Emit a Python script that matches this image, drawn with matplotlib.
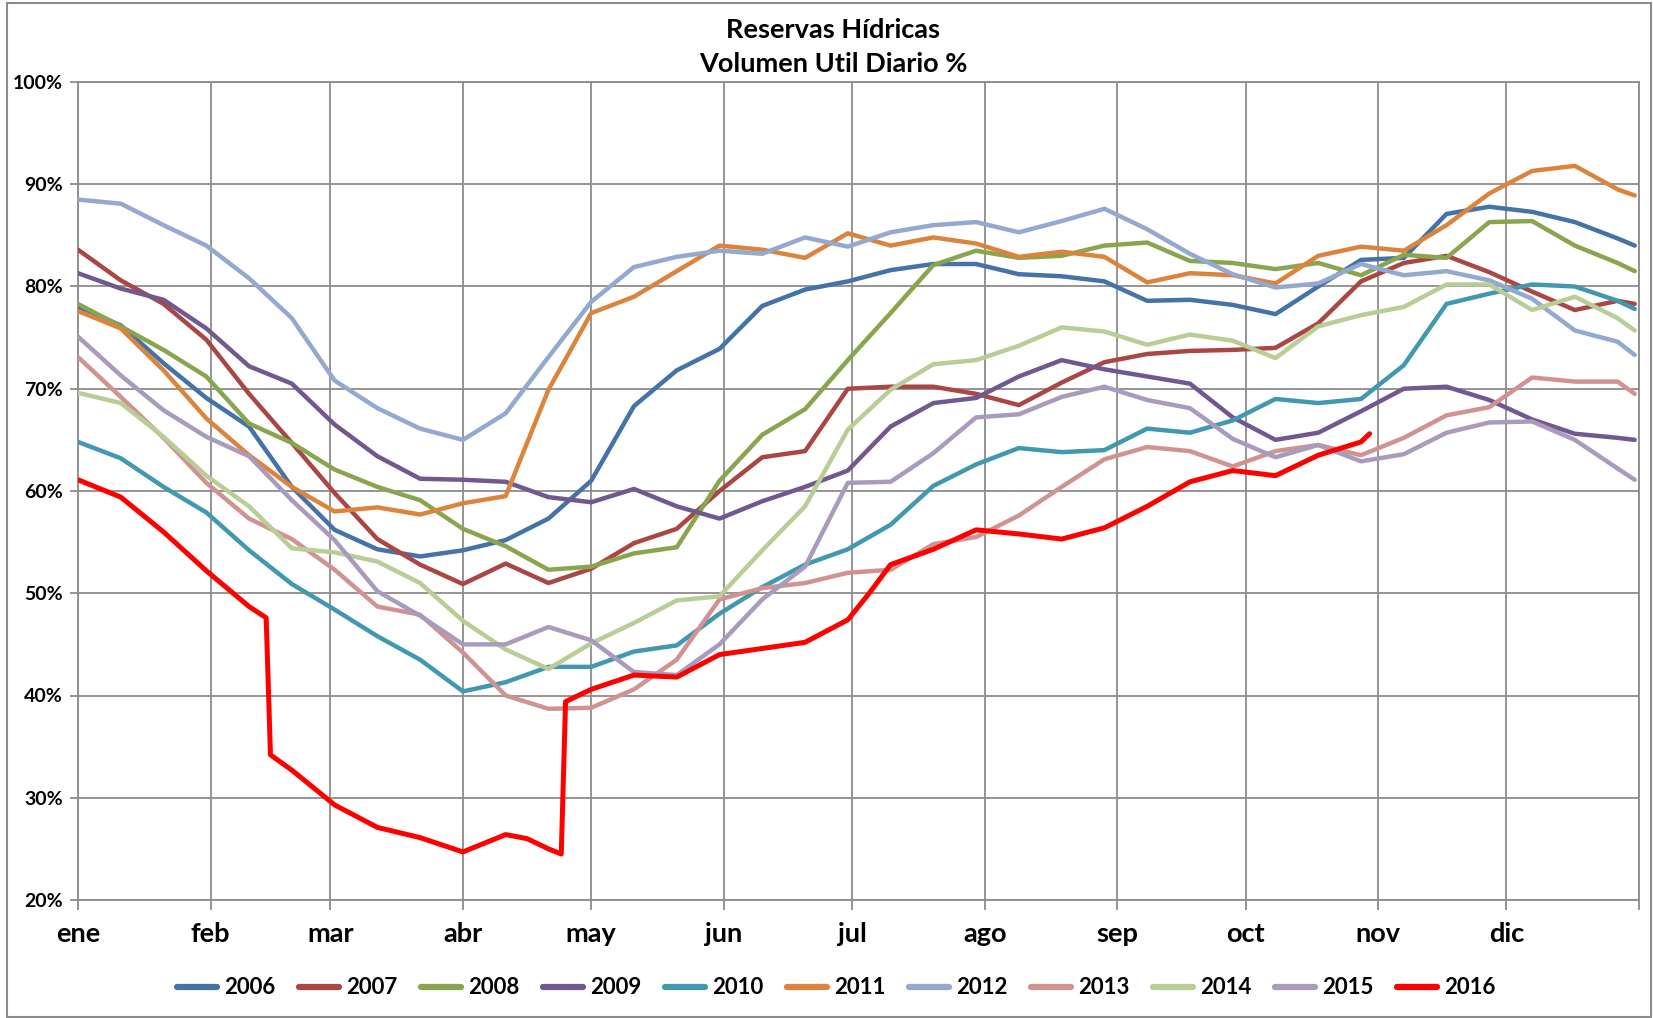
import numpy as np
import matplotlib
matplotlib.use('Agg')
import matplotlib.pyplot as plt
from matplotlib.patches import Rectangle
from matplotlib.ticker import FuncFormatter

plt.rcParams['font.family'] = ['Lato', 'DejaVu Sans']

# dias del año (0 = 1 de enero) donde se leyeron los valores
days = [0, 10, 20, 30, 40, 50, 60, 70, 80, 90, 100, 110, 120, 130, 140, 150, 160, 170, 180,
        190, 200, 210, 220, 230, 240, 250, 260, 270, 280, 290, 300, 310, 320, 330, 340, 350,
        360, 364]

v2006 = [78.0, 76.2, 72.5, 69.1, 66.3, 60.4, 56.2, 54.3, 53.6, 54.2, 55.2, 57.3, 61.0, 68.3,
         71.8, 73.9, 78.1, 79.7, 80.5, 81.6, 82.2, 82.2, 81.2, 81.0, 80.5, 78.6, 78.7, 78.2,
         77.3, 80.0, 82.6, 82.8, 87.1, 87.8, 87.3, 86.3, 84.7, 84.0]
v2007 = [83.6, 80.6, 78.3, 74.8, 69.5, 64.7, 59.8, 55.3, 52.8, 50.9, 52.9, 51.0, 52.4, 54.9,
         56.3, 60.0, 63.3, 63.9, 70.0, 70.2, 70.2, 69.5, 68.4, 70.6, 72.6, 73.4, 73.7, 73.8,
         74.0, 76.4, 80.5, 82.3, 83.0, 81.4, 79.5, 77.7, 78.6, 78.3]
v2008 = [78.3, 76.1, 73.8, 71.2, 66.6, 64.7, 62.1, 60.4, 59.1, 56.3, 54.6, 52.3, 52.6, 53.9,
         54.5, 61.0, 65.5, 68.0, 72.8, 77.4, 82.1, 83.5, 82.8, 83.0, 84.0, 84.3, 82.5, 82.3,
         81.7, 82.3, 81.1, 83.1, 82.8, 86.3, 86.4, 84.0, 82.3, 81.5]
v2009 = [81.3, 79.8, 78.7, 75.9, 72.2, 70.5, 66.5, 63.4, 61.2, 61.1, 60.9, 59.4, 58.9, 60.2,
         58.5, 57.3, 59.0, 60.4, 62.0, 66.3, 68.6, 69.1, 71.2, 72.8, 71.9, 71.2, 70.5, 67.2,
         65.0, 65.7, 67.8, 70.0, 70.2, 68.9, 67.0, 65.6, 65.2, 65.0]
v2010 = [64.8, 63.2, 60.4, 57.9, 54.2, 50.9, 48.4, 45.8, 43.5, 40.4, 41.3, 42.8, 42.8, 44.3,
         44.9, 48.0, 50.6, 52.8, 54.3, 56.7, 60.5, 62.6, 64.2, 63.8, 64.0, 66.1, 65.7, 66.9,
         69.0, 68.6, 69.0, 72.3, 78.3, 79.3, 80.2, 80.0, 78.6, 77.8]
v2011 = [77.6, 75.9, 71.8, 67.1, 63.5, 60.4, 58.0, 58.4, 57.7, 58.8, 59.5, 69.9, 77.4, 79.0,
         81.5, 84.0, 83.6, 82.8, 85.2, 84.0, 84.8, 84.2, 82.9, 83.4, 82.9, 80.4, 81.3, 81.1,
         80.3, 83.0, 83.9, 83.5, 86.0, 89.1, 91.3, 91.8, 89.5, 88.9]
v2012 = [88.5, 88.1, 86.0, 84.0, 80.8, 76.9, 70.8, 68.1, 66.1, 65.0, 67.6, 73.1, 78.5, 81.9,
         82.9, 83.5, 83.2, 84.8, 83.9, 85.3, 86.0, 86.3, 85.3, 86.4, 87.6, 85.6, 83.2, 81.2,
         79.9, 80.3, 82.2, 81.1, 81.5, 80.6, 78.8, 75.7, 74.6, 73.3]
v2013 = [73.1, 69.2, 65.2, 60.8, 57.3, 55.3, 52.3, 48.7, 47.9, 44.2, 40.0, 38.7, 38.8, 40.6,
         43.5, 49.4, 50.5, 51.0, 52.0, 52.3, 54.8, 55.5, 57.6, 60.4, 63.1, 64.3, 63.9, 62.4,
         63.9, 64.5, 63.5, 65.2, 67.4, 68.2, 71.1, 70.7, 70.7, 69.5]
v2014 = [69.6, 68.6, 65.3, 61.5, 58.5, 54.4, 54.0, 53.1, 51.0, 47.3, 44.5, 42.6, 45.1, 47.1,
         49.3, 49.7, 54.2, 58.5, 66.0, 69.9, 72.4, 72.8, 74.2, 76.0, 75.6, 74.3, 75.3, 74.7,
         73.0, 76.1, 77.2, 78.0, 80.2, 80.2, 77.7, 79.0, 76.9, 75.7]
v2015 = [75.1, 71.3, 67.9, 65.3, 63.4, 59.1, 55.2, 50.2, 47.8, 45.0, 45.0, 46.7, 45.4, 42.3,
         42.0, 45.0, 49.4, 52.6, 60.8, 60.9, 63.7, 67.2, 67.5, 69.2, 70.2, 68.9, 68.1, 65.1,
         63.3, 64.5, 62.9, 63.6, 65.7, 66.7, 66.8, 65.0, 62.2, 61.1]

# 2016 tiene saltos bruscos, se guarda con sus propios dias
days2016 = [0, 10, 20, 30, 40, 44, 45, 50, 60, 70, 80, 90, 100, 105, 110, 113, 114, 120, 130,
            140, 150, 160, 170, 180, 185, 190, 200, 210, 220, 230, 240, 250, 260, 270, 280,
            290, 300, 302]
v2016 = [61.1, 59.4, 56.0, 52.2, 48.7, 47.6, 34.2, 32.7, 29.3, 27.1, 26.1, 24.7, 26.4, 26.0,
         25.0, 24.5, 39.4, 40.6, 42.0, 41.8, 44.0, 44.6, 45.2, 47.4, 50.0, 52.8, 54.3, 56.2,
         55.8, 55.3, 56.4, 58.5, 60.9, 62.0, 61.5, 63.5, 64.8, 65.6]

years = ['2006', '2007', '2008', '2009', '2010', '2011', '2012', '2013', '2014', '2015']
series = [v2006, v2007, v2008, v2009, v2010, v2011, v2012, v2013, v2014, v2015]
colors = ['#4572A7', '#AA4643', '#89A54E', '#71588F', '#4198AF', '#DB843D',
          '#93A9CF', '#D19392', '#B9CD96', '#A99BBD']

month_start = [0, 31, 59, 90, 120, 151, 181, 212, 243, 273, 304, 334]
month_names = ['ene', 'feb', 'mar', 'abr', 'may', 'jun', 'jul', 'ago', 'sep', 'oct', 'nov', 'dic']

W, H = 1653, 1018
fig = plt.figure(figsize=(W / 100, H / 100), dpi=100)
ax = fig.add_axes([78 / W, 1 - 900 / H, (1639 - 78) / W, (900 - 82) / H])

for name, vals, c in zip(years, series, colors):
    ax.plot(days, vals, color=c, lw=3.2, label=name, solid_capstyle='round', zorder=3)
ax.plot(days2016, v2016, color='#FF0000', lw=3.6, label='2016', solid_capstyle='round', zorder=4)

ax.set_xlim(0, 365)
ax.set_ylim(20, 100)
ax.set_yticks(np.arange(20, 101, 10))
ax.yaxis.set_major_formatter(FuncFormatter(lambda v, p: '%d%%' % v))
ax.set_xticks(month_start + [365])
ax.set_xticklabels(month_names + [''])

grid_c = '#8c8c8c'
ax.grid(True, color=grid_c, lw=1.3)
ax.set_axisbelow(True)
for s in ax.spines.values():
    s.set_color(grid_c)
    s.set_linewidth(1.3)

ax.tick_params(axis='y', direction='out', length=6, width=1.3, color=grid_c, pad=5,
               labelsize=14)
ax.tick_params(axis='x', direction='out', length=7, width=1.3, color=grid_c, pad=9,
               labelsize=19.5)
for t in ax.get_yticklabels() + ax.get_xticklabels():
    t.set_fontweight('bold')

fig.text(0.504, 1 - 30 / H, 'Reservas Hídricas', ha='center', va='center',
         fontsize=19.5, fontweight='bold')
fig.text(0.504, 1 - 64 / H, 'Volumen Util Diario %', ha='center', va='center',
         fontsize=19.5, fontweight='bold')

leg = fig.legend(loc='center', bbox_to_anchor=(0.506, 1 - 988 / H), ncol=11, frameon=False,
                 prop={'weight': 'bold', 'size': 16}, handlelength=1.8, handletextpad=0.33,
                 columnspacing=1.05)
for l in leg.get_lines():
    l.set_linewidth(4.5)

fig.patches.append(Rectangle((7 / W, 1 / H), 1 - 9 / W, 1 - 4 / H, transform=fig.transFigure,
                             fill=False, edgecolor='#8c8c8c', lw=1.5))

fig.savefig('out.png', dpi=100)
